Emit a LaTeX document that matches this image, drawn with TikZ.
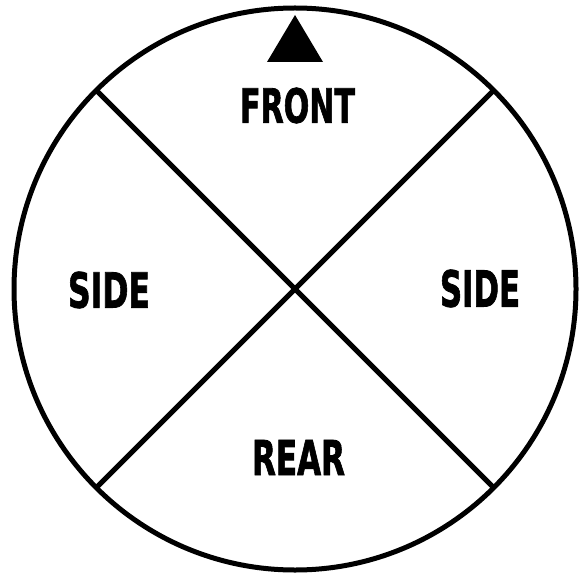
\documentclass[tikz,border=0pt]{standalone}
\usepackage{fontspec}
\setmainfont{DejaVu Sans}
\newfontfamily\heavyfont{DejaVu Sans Bold}[FakeBold=1.8]
\usepackage{graphicx}
\tikzset{
  lbl/.style={inner sep=0pt, font=\heavyfont},
  ring/.style={line width=5pt},
  divider/.style={line width=5pt},
  marker/.style={fill=black, draw=none}
}
\begin{document}
\begin{tikzpicture}[x=1pt,y=-1pt]
\useasboundingbox (0,0) rectangle (580,577);
\coordinate (c) at (295,289);
\draw[ring] (c) circle[radius=281];
\coordinate (tl) at (96.3,90.3);
\coordinate (tr) at (493.7,90.3);
\coordinate (bl) at (96.3,487.7);
\coordinate (br) at (493.7,487.7);
\draw[divider] (tl) -- (br);
\draw[divider] (tr) -- (bl);
\fill[marker] (295,15) -- (323,62) -- (267,62) -- cycle;
\node[lbl] (front) at (297.5,105.5) {\resizebox{115pt}{35pt}{FRONT}};
\node[lbl] (sidel) at (109,290) {\resizebox{82pt}{36pt}{SIDE}};
\node[lbl] (sider) at (480,288.5) {\resizebox{80pt}{37pt}{SIDE}};
\node[lbl] (rear) at (298.5,457.5) {\resizebox{93pt}{35pt}{REAR}};
\end{tikzpicture}
\end{document}
